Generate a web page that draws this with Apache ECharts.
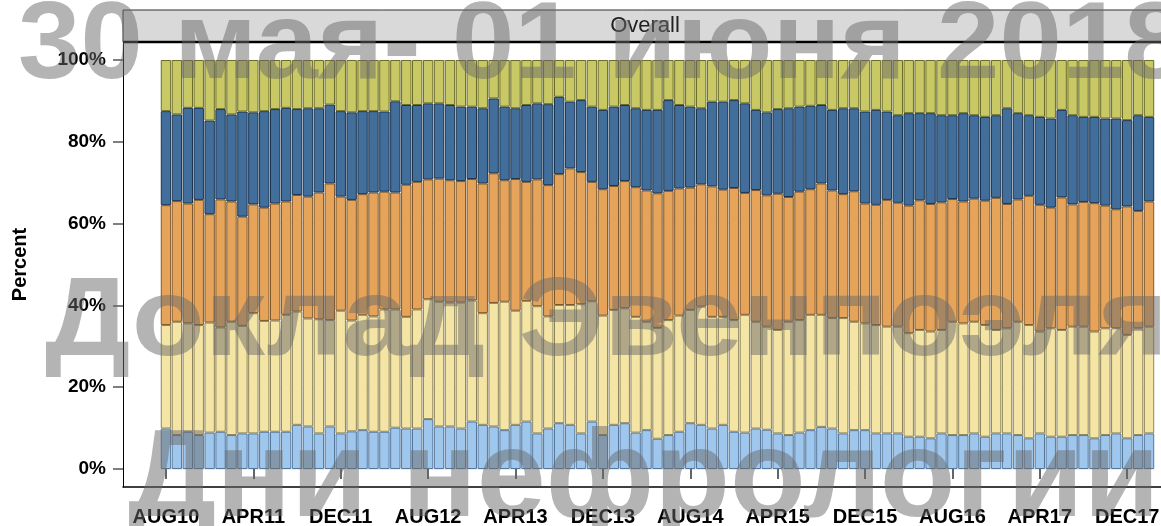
<!DOCTYPE html>
<html>
<head>
<meta charset="utf-8">
<script src="https://cdn.jsdelivr.net/npm/echarts@6/dist/echarts.min.js"></script>
<style>
  html, body { margin: 0; padding: 0; background: #fff; }
  #chart { width: 1161px; height: 526px; }
</style>
</head>
<body>
<div id="chart"></div>
<script>
// Monthly categories, AUG10 .. FEB18
const months = [
  "AUG10", "SEP10", "OCT10", "NOV10", "DEC10",
  "JAN11", "FEB11", "MAR11", "APR11", "MAY11", "JUN11", "JUL11", "AUG11", "SEP11", "OCT11", "NOV11", "DEC11",
  "JAN12", "FEB12", "MAR12", "APR12", "MAY12", "JUN12", "JUL12", "AUG12", "SEP12", "OCT12", "NOV12", "DEC12",
  "JAN13", "FEB13", "MAR13", "APR13", "MAY13", "JUN13", "JUL13", "AUG13", "SEP13", "OCT13", "NOV13", "DEC13",
  "JAN14", "FEB14", "MAR14", "APR14", "MAY14", "JUN14", "JUL14", "AUG14", "SEP14", "OCT14", "NOV14", "DEC14",
  "JAN15", "FEB15", "MAR15", "APR15", "MAY15", "JUN15", "JUL15", "AUG15", "SEP15", "OCT15", "NOV15", "DEC15",
  "JAN16", "FEB16", "MAR16", "APR16", "MAY16", "JUN16", "JUL16", "AUG16", "SEP16", "OCT16", "NOV16", "DEC16",
  "JAN17", "FEB17", "MAR17", "APR17", "MAY17", "JUN17", "JUL17", "AUG17", "SEP17", "OCT17", "NOV17", "DEC17",
  "JAN18", "FEB18"
];

// Cumulative tops (percent) of each band
const topLightBlue = [
  9.9, 8.3, 9.1, 8.3, 8.9, 9.1, 8.3, 8.7, 8.7, 9.1, 9.1, 9.1, 10.8, 10.4, 8.7, 10.4, 8.7, 9.2, 9.5, 9.1,
  9.1, 10.1, 9.9, 9.9, 12.2, 10.4, 10.4, 9.9, 11.6, 10.8, 10.4, 9.5, 10.8, 11.6, 8.7, 9.9, 11.2, 10.8, 8.7, 11.6,
  8.3, 10.8, 11.2, 8.9, 9.5, 7.4, 8.3, 9.1, 11.2, 10.8, 9.9, 10.8, 9.1, 8.9, 9.9, 9.6, 8.7, 8.3, 8.9, 9.5,
  10.3, 9.9, 8.7, 9.5, 9.5, 8.7, 8.7, 8.7, 7.9, 7.9, 7.5, 8.7, 8.3, 8.3, 8.7, 7.9, 8.7, 8.7, 8.3, 7.5,
  8.7, 7.9, 7.9, 8.3, 8.3, 7.5, 8.3, 8.7, 7.5, 8.3, 8.7
];
const topYellow = [
  35.2, 36.0, 35.6, 35.2, 35.8, 34.6, 36.0, 35.0, 38.1, 36.2, 36.3, 37.7, 38.5, 36.8, 36.6, 36.4, 38.7, 36.3, 37.7, 37.3,
  39.0, 39.0, 37.2, 39.0, 41.5, 40.9, 40.7, 40.7, 41.2, 38.1, 40.6, 40.9, 38.7, 41.1, 39.8, 37.3, 40.1, 40.1, 40.3, 41.0,
  37.5, 38.9, 39.3, 37.2, 36.0, 34.5, 36.4, 37.5, 38.9, 39.7, 37.2, 37.2, 36.4, 37.7, 36.0, 34.8, 34.0, 36.0, 36.4, 37.7,
  37.7, 36.9, 36.9, 36.0, 35.6, 35.2, 34.8, 34.8, 33.2, 34.0, 33.6, 34.0, 36.0, 35.6, 36.0, 35.2, 34.0, 34.4, 36.0, 35.2,
  33.6, 34.4, 34.0, 34.8, 34.8, 33.6, 34.4, 34.4, 32.8, 34.4, 34.8
];
const topOrange = [
  64.5, 65.5, 64.9, 65.8, 62.3, 65.9, 65.4, 61.7, 64.7, 63.9, 64.9, 65.4, 67.0, 66.6, 67.6, 69.8, 66.6, 65.8, 67.2, 67.6,
  67.8, 67.6, 69.5, 70.2, 70.8, 71.0, 70.6, 70.4, 70.9, 69.8, 72.3, 70.6, 70.9, 70.2, 70.8, 69.4, 72.1, 73.5, 72.6, 70.2,
  68.4, 69.2, 70.4, 68.9, 68.1, 67.4, 68.0, 68.6, 68.8, 69.6, 69.1, 68.3, 68.7, 67.5, 68.2, 66.9, 67.3, 66.5, 67.8, 68.4,
  69.8, 68.1, 67.2, 67.9, 64.9, 64.6, 65.8, 65.1, 64.4, 65.7, 64.8, 65.2, 66.0, 65.4, 66.1, 65.6, 66.3, 64.8, 65.9, 66.8,
  64.6, 63.9, 66.4, 64.7, 65.3, 65.0, 64.4, 63.5, 64.2, 63.1, 65.4
];
const topDarkBlue = [
  87.5, 86.7, 88.3, 88.3, 85.2, 88.0, 86.7, 87.4, 87.2, 87.5, 88.0, 88.3, 88.0, 88.2, 88.2, 89.1, 87.5, 87.2, 87.5, 87.5,
  87.4, 89.9, 89.0, 89.0, 89.4, 89.4, 89.0, 88.6, 88.6, 88.2, 90.6, 88.6, 88.2, 89.0, 89.4, 89.2, 91.0, 89.8, 90.2, 88.6,
  87.8, 88.6, 89.0, 88.2, 87.8, 87.8, 90.2, 89.0, 88.6, 88.2, 89.8, 89.8, 90.2, 89.4, 87.8, 87.2, 88.0, 88.2, 88.6, 88.8,
  89.0, 87.8, 88.2, 88.2, 87.4, 87.8, 87.4, 86.5, 87.0, 87.0, 87.0, 86.5, 86.5, 87.0, 86.5, 86.1, 86.5, 88.2, 87.0, 86.5,
  86.1, 85.7, 87.8, 86.5, 86.1, 86.1, 85.7, 85.7, 85.3, 86.5, 86.1
];

const yTicks = [0, 20, 40, 60, 80, 100];

// band colours (fill, edge), bottom to top
const bands = [
  { fill: "#9fc6ec", edge: "#55779a" },
  { fill: "#f5e5a4", edge: "#8c845c" },
  { fill: "#e5a45a", edge: "#7e582c" },
  { fill: "#416e9b", edge: "#1c334d" },
  { fill: "#c8c865", edge: "#6b6b2a" }
];

// turn cumulative tops into stacked shares
function diff(upper, lower) {
  return upper.map((v, i) => +(v - (lower ? lower[i] : 0)).toFixed(1));
}
const shares = [
  diff(topLightBlue),
  diff(topYellow, topLightBlue),
  diff(topOrange, topYellow),
  diff(topDarkBlue, topOrange),
  topDarkBlue.map((v) => +(100 - v).toFixed(1))
];

const chart = echarts.init(document.getElementById("chart"));

const wmStyle = {
  fill: "rgba(105,105,105,0.5)",
  fontFamily: "Liberation Sans",
  fontWeight: "bold",
  verticalAlign: "middle",
  shadowColor: "rgba(160,160,160,0.55)",
  shadowBlur: 5,
  shadowOffsetX: 2,
  shadowOffsetY: 2
};

function watermark(text, x, y, size, sx) {
  return {
    type: "text", z: 50, x: x, y: y, scaleX: sx,
    style: Object.assign({ text: text, x: 0, y: 0, fontSize: size }, wmStyle)
  };
}

const option = {
  animation: false,
  backgroundColor: "#fff",
  grid: [
    { left: 123, right: 0, top: 42, bottom: 39, outerBoundsMode: "none" },
    { left: 160.5, right: 6.5, top: 60, bottom: 57, outerBoundsMode: "none" }
  ],
  xAxis: [
    {
      gridIndex: 0, type: "value", min: 0, max: 1,
      axisLine: { show: true, lineStyle: { color: "#000", width: 1.5 } },
      axisTick: { show: false }, axisLabel: { show: false }, splitLine: { show: false }
    },
    {
      gridIndex: 1, type: "category", data: months, offset: 18,
      axisLine: { show: false },
      axisTick: { show: true, alignWithLabel: true, interval: 7, length: 10, lineStyle: { color: "#333", width: 1.5 } },
      axisLabel: {
        interval: 7, margin: 20, color: "#000",
        fontFamily: "Liberation Sans", fontWeight: "bold", fontSize: 20
      }
    }
  ],
  yAxis: [
    {
      gridIndex: 0, type: "value", min: 0, max: 1,
      axisLine: { show: true, lineStyle: { color: "#000", width: 1 } },
      axisTick: { show: false }, axisLabel: { show: false }, splitLine: { show: false }
    },
    {
      gridIndex: 1, type: "value", min: yTicks[0], max: yTicks[yTicks.length - 1], interval: 20, offset: 37.5,
      name: "Percent", nameLocation: "middle", nameGap: 93,
      nameTextStyle: { fontFamily: "Liberation Sans", fontWeight: "bold", fontSize: 20, color: "#000" },
      axisLine: { show: false },
      axisTick: { show: true, length: 10, lineStyle: { color: "#555", width: 1.5 } },
      axisLabel: {
        formatter: "{value}%", margin: 17, color: "#000",
        fontFamily: "Liberation Sans", fontWeight: "bold", fontSize: 19
      },
      splitLine: { show: true, lineStyle: { color: "#ececec", width: 1 } }
    }
  ],
  series: shares.map((data, k) => ({
    type: "bar",
    stack: "total",
    xAxisIndex: 1,
    yAxisIndex: 1,
    barCategoryGap: "5%",
    data: data,
    itemStyle: { color: bands[k].fill, borderColor: bands[k].edge, borderWidth: 1 }
  })),
  graphic: [
    {
      type: "rect", z: 5,
      shape: { x: 123, y: 10, width: 1040, height: 32 },
      style: { fill: "#d9d9d9", stroke: "#333", lineWidth: 1 }
    },
    {
      type: "line", z: 6,
      shape: { x1: 123, y1: 42, x2: 1161, y2: 42 },
      style: { stroke: "#000", lineWidth: 2.5 }
    },
    {
      type: "text", z: 7,
      style: {
        text: "Overall", x: 645, y: 26, align: "center", verticalAlign: "middle",
        fill: "#222", fontFamily: "Liberation Sans", fontSize: 22
      }
    },
    watermark("30 мая- 01 июня 2018", 18, 48, 110, 1.02),
    watermark("Доклад Эвенпоэля", 45, 324, 112, 1.07),
    watermark("Дни нефрологии", 128, 482, 124, 1)
  ]
};

chart.setOption(option);
</script>
</body>
</html>
